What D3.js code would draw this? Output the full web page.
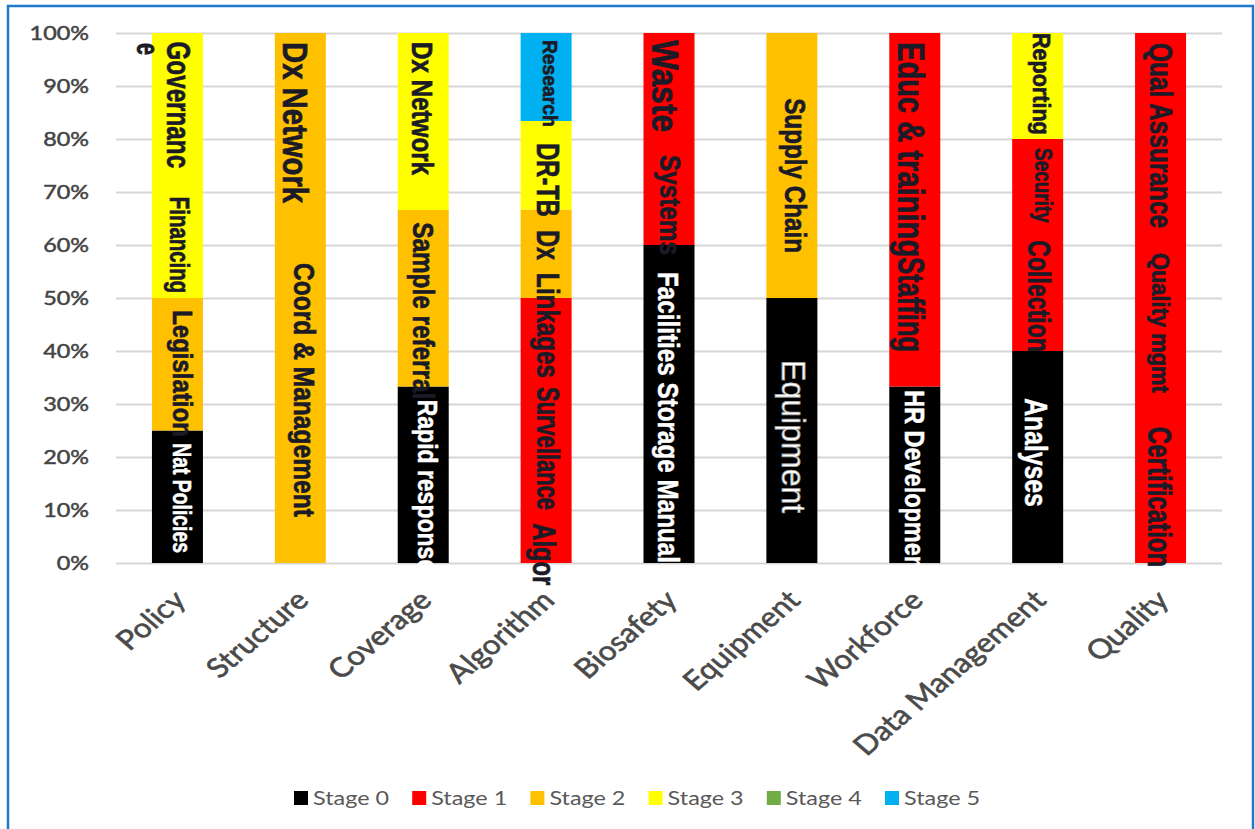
<!DOCTYPE html>
<html>
<head>
<meta charset="utf-8">
<script src="https://cdn.jsdelivr.net/npm/d3@7"></script>
<style>
  html, body { margin: 0; padding: 0; background: #ffffff; }
  svg { display: block; }
</style>
</head>
<body>
<svg id="chart" width="1255" height="829"></svg>
<script>
// ---- data ----------------------------------------------------------
const categories = ["Policy", "Structure", "Coverage", "Algorithm", "Biosafety",
                    "Equipment", "Workforce", "Data Management", "Quality"];
const stageNames = ["Stage 0", "Stage 1", "Stage 2", "Stage 3", "Stage 4", "Stage 5"];

// share of each domain (%) at each stage
const stage0 = [25, 0, 33.3, 0, 60, 50, 33.3, 40, 0];
const stage1 = [0, 0, 0, 50, 40, 0, 66.7, 40, 100];
const stage2 = [25, 100, 33.3, 16.7, 0, 50, 0, 0, 0];
const stage3 = [50, 0, 33.4, 16.7, 0, 0, 0, 20, 0];
const stage4 = [0, 0, 0, 0, 0, 0, 0, 0, 0];
const stage5 = [0, 0, 0, 16.6, 0, 0, 0, 0, 0];

const yTicks = [0, 10, 20, 30, 40, 50, 60, 70, 80, 90, 100];

// labels written vertically inside the bars: text, and the span of the
// axis (in %) that each one covers
const barNotes = [
  { cat: "Policy", text: "e", from: 98.1, to: 95.8 },
  { cat: "Policy", text: "Governanc", from: 98.4, to: 74.5 },
  { cat: "Policy", text: "Financing", from: 69.1, to: 50.9 },
  { cat: "Policy", text: "Legislation", from: 47.7, to: 23.8 },
  { cat: "Policy", text: "Nat Policies", from: 22.6, to: 1.9 },
  { cat: "Structure", text: "Dx Network", from: 98.3, to: 67.9 },
  { cat: "Structure", text: "Coord & Management", from: 56.6, to: 8.7 },
  { cat: "Coverage", text: "Dx Network", from: 98.3, to: 73.2 },
  { cat: "Coverage", text: "Sample referral", from: 64.3, to: 30.9 },
  { cat: "Coverage", text: "Rapid response", from: 30.8, to: -1.7 },
  { cat: "Algorithm", text: "Research", from: 98.7, to: 82.3 },
  { cat: "Algorithm", text: "DR-TB", from: 79.2, to: 65.3 },
  { cat: "Algorithm", text: "Dx", from: 62.8, to: 57.2 },
  { cat: "Algorithm", text: "Linkages", from: 54.7, to: 34.9 },
  { cat: "Algorithm", text: "Survellance", from: 33.2, to: 10.0 },
  { cat: "Algorithm", text: "Algor", from: 7.5, to: -4.2 },
  { cat: "Biosafety", text: "Waste", from: 98.7, to: 81.3 },
  { cat: "Biosafety", text: "Systems", from: 77.0, to: 58.1 },
  { cat: "Biosafety", text: "Facilities Storage Manual", from: 54.9, to: 0 },
  { cat: "Equipment", text: "Supply Chain", from: 87.7, to: 58.5 },
  { cat: "Equipment", text: "Equipment", from: 38.3, to: 9.4 },
  { cat: "Workforce", text: "Educ & training", from: 98.3, to: 57.7 },
  { cat: "Workforce", text: "Staffing", from: 57.7, to: 39.8 },
  { cat: "Workforce", text: "HR Development", from: 32.6, to: -2.8 },
  { cat: "Data Management", text: "Reporting", from: 100, to: 80.8 },
  { cat: "Data Management", text: "Security", from: 78.3, to: 64.2 },
  { cat: "Data Management", text: "Collection", from: 60.9, to: 39.8 },
  { cat: "Data Management", text: "Analyses", from: 31.1, to: 10.6 },
  { cat: "Quality", text: "Qual Assurance", from: 98.1, to: 63.2 },
  { cat: "Quality", text: "Quality mgmt", from: 58.5, to: 32.1 },
  { cat: "Quality", text: "Certification", from: 25.7, to: -0.8 }
];

// per-label look: baseline offset from bar centre, font size, colour
const noteStyle = [
  [-40, 31, "dark"], [-10.5, 33, "dark"], [-7.5, 28, "dark"], [-4.5, 28, "dark"], [-4.5, 25, "light"],
  [-17, 35, "dark"], [-6, 29, "dark"],
  [-11, 30, "dark"], [-10, 30, "dark"], [-5, 28, "light"],
  [-3, 21, "dark"], [-9, 32, "dark"], [-9, 32, "dark"], [-9, 32, "dark"], [-9, 32, "dark"], [-13, 32, "dark"],
  [-17, 36, "dark"], [-9, 30, "dark"], [-11, 30, "light"],
  [-7, 30, "dark"], [-10, 33, "outline"],
  [-17, 37, "dark"], [-17, 37, "dark"], [-10, 28, "light"],
  [-5, 23, "dark"], [-3, 24, "dark"], [-10, 32, "dark"], [-13, 32, "light"],
  [-11, 32, "dark"], [-9, 24, "dark"], [-13, 33, "dark"]
];

// ---- layout --------------------------------------------------------
const svg = d3.select("#chart");
const colors = ["#000000", "#FF0000", "#FFC000", "#FFFF00", "#70AD47", "#00B0F0"];
const plot = { left: 116, right: 1222, top: 33, bottom: 563 };
const stretch = 1.17;

svg.append("rect").attr("width", 1255).attr("height", 829).attr("fill", "#ffffff");
svg.append("rect")
  .attr("x", 8).attr("y", 6).attr("width", 1245).attr("height", 840)
  .attr("fill", "none").attr("stroke", "#2177c9").attr("stroke-width", 2.5);

const x = d3.scaleBand().domain(categories)
  .range([plot.left, plot.right]).paddingInner(0.585).paddingOuter(0.2925);
const y = d3.scaleLinear().domain([0, 100]).range([plot.bottom, plot.top]);

// gridlines
const grid = svg.append("g").attr("transform", `translate(${plot.left},0)`)
  .call(d3.axisLeft(y).tickValues(yTicks).tickSize(-(plot.right - plot.left)).tickFormat(""));
grid.select(".domain").remove();
grid.selectAll(".tick line").attr("stroke", "#d6d6d6").attr("stroke-width", 2);

// y axis labels
const yAxis = svg.append("g").attr("transform", "translate(89,0)")
  .call(d3.axisLeft(y).tickValues(yTicks).tickSize(0).tickPadding(0).tickFormat(d => d + "%"));
yAxis.select(".domain").remove();
yAxis.selectAll(".tick text")
  .attr("x", 0).attr("text-anchor", "end")
  .attr("transform", `scale(${stretch},1)`)
  .attr("font-family", "Lato, 'Open Sans', sans-serif")
  .attr("font-size", 20).attr("fill", "#444444")
  .attr("stroke", "#444444").attr("stroke-width", 0.5);

// stacked bars
const table = categories.map((c, i) => ({
  cat: c,
  "Stage 0": stage0[i], "Stage 1": stage1[i], "Stage 2": stage2[i],
  "Stage 3": stage3[i], "Stage 4": stage4[i], "Stage 5": stage5[i]
}));
const series = d3.stack().keys(stageNames)(table);

svg.append("g").selectAll("g").data(series).join("g")
  .attr("fill", (d, i) => colors[i])
  .selectAll("rect").data(d => d.filter(p => p[1] - p[0] > 0)).join("rect")
  .attr("x", d => x(d.data.cat))
  .attr("width", x.bandwidth())
  .attr("y", d => y(d[1]))
  .attr("height", d => y(d[0]) - y(d[1]));

// vertical labels in the bars
const notes = svg.append("g");
barNotes.forEach((n, i) => {
  const [dx, size, tone] = noteStyle[i];
  const cx = x(n.cat) + x.bandwidth() / 2 + dx;
  const len = y(n.to) - y(n.from);
  const t = notes.append("text")
    .attr("transform", `translate(${cx},${y(n.from)}) rotate(90)`)
    .attr("font-family", "'Liberation Sans', Arial, sans-serif")
    .attr("font-size", size)
    .attr("font-weight", tone === "outline" ? "normal" : "bold")
    .attr("textLength", len)
    .attr("lengthAdjust", "spacingAndGlyphs")
    .attr("fill", tone === "dark" ? "#1b1b27" : "#ffffff")
    .text(n.text);
  if (tone === "outline") t.attr("stroke", "#9a9a9a").attr("stroke-width", 0.8);
  else if (tone === "dark") t.attr("stroke", "#1b1b27").attr("stroke-width", 0.7);
  else t.attr("stroke", "#ffffff").attr("stroke-width", 0.5);
});

// category labels
svg.append("g").selectAll("text").data(categories).join("text")
  .attr("transform", d => `translate(${x(d) + x.bandwidth() / 2 + 10},602) scale(${stretch},1) rotate(-45)`)
  .attr("text-anchor", "end")
  .attr("font-family", "Lato, 'Open Sans', sans-serif")
  .attr("font-size", 27)
  .attr("fill", "#4a4a4a")
  .attr("stroke", "#4a4a4a").attr("stroke-width", 0.6)
  .text(d => d);

// legend
const legend = svg.append("g").selectAll("g").data(stageNames).join("g")
  .attr("transform", (d, i) => `translate(${294 + i * 118.2},798)`);
legend.append("rect")
  .attr("x", 0).attr("y", -7).attr("width", 14).attr("height", 14)
  .attr("fill", (d, i) => colors[i]);
legend.append("text")
  .attr("transform", `translate(19,0) scale(${stretch},1)`)
  .attr("dy", "0.36em")
  .attr("font-family", "Lato, 'Open Sans', sans-serif")
  .attr("font-size", 20)
  .attr("fill", "#595959")
  .text(d => d);
</script>
</body>
</html>
